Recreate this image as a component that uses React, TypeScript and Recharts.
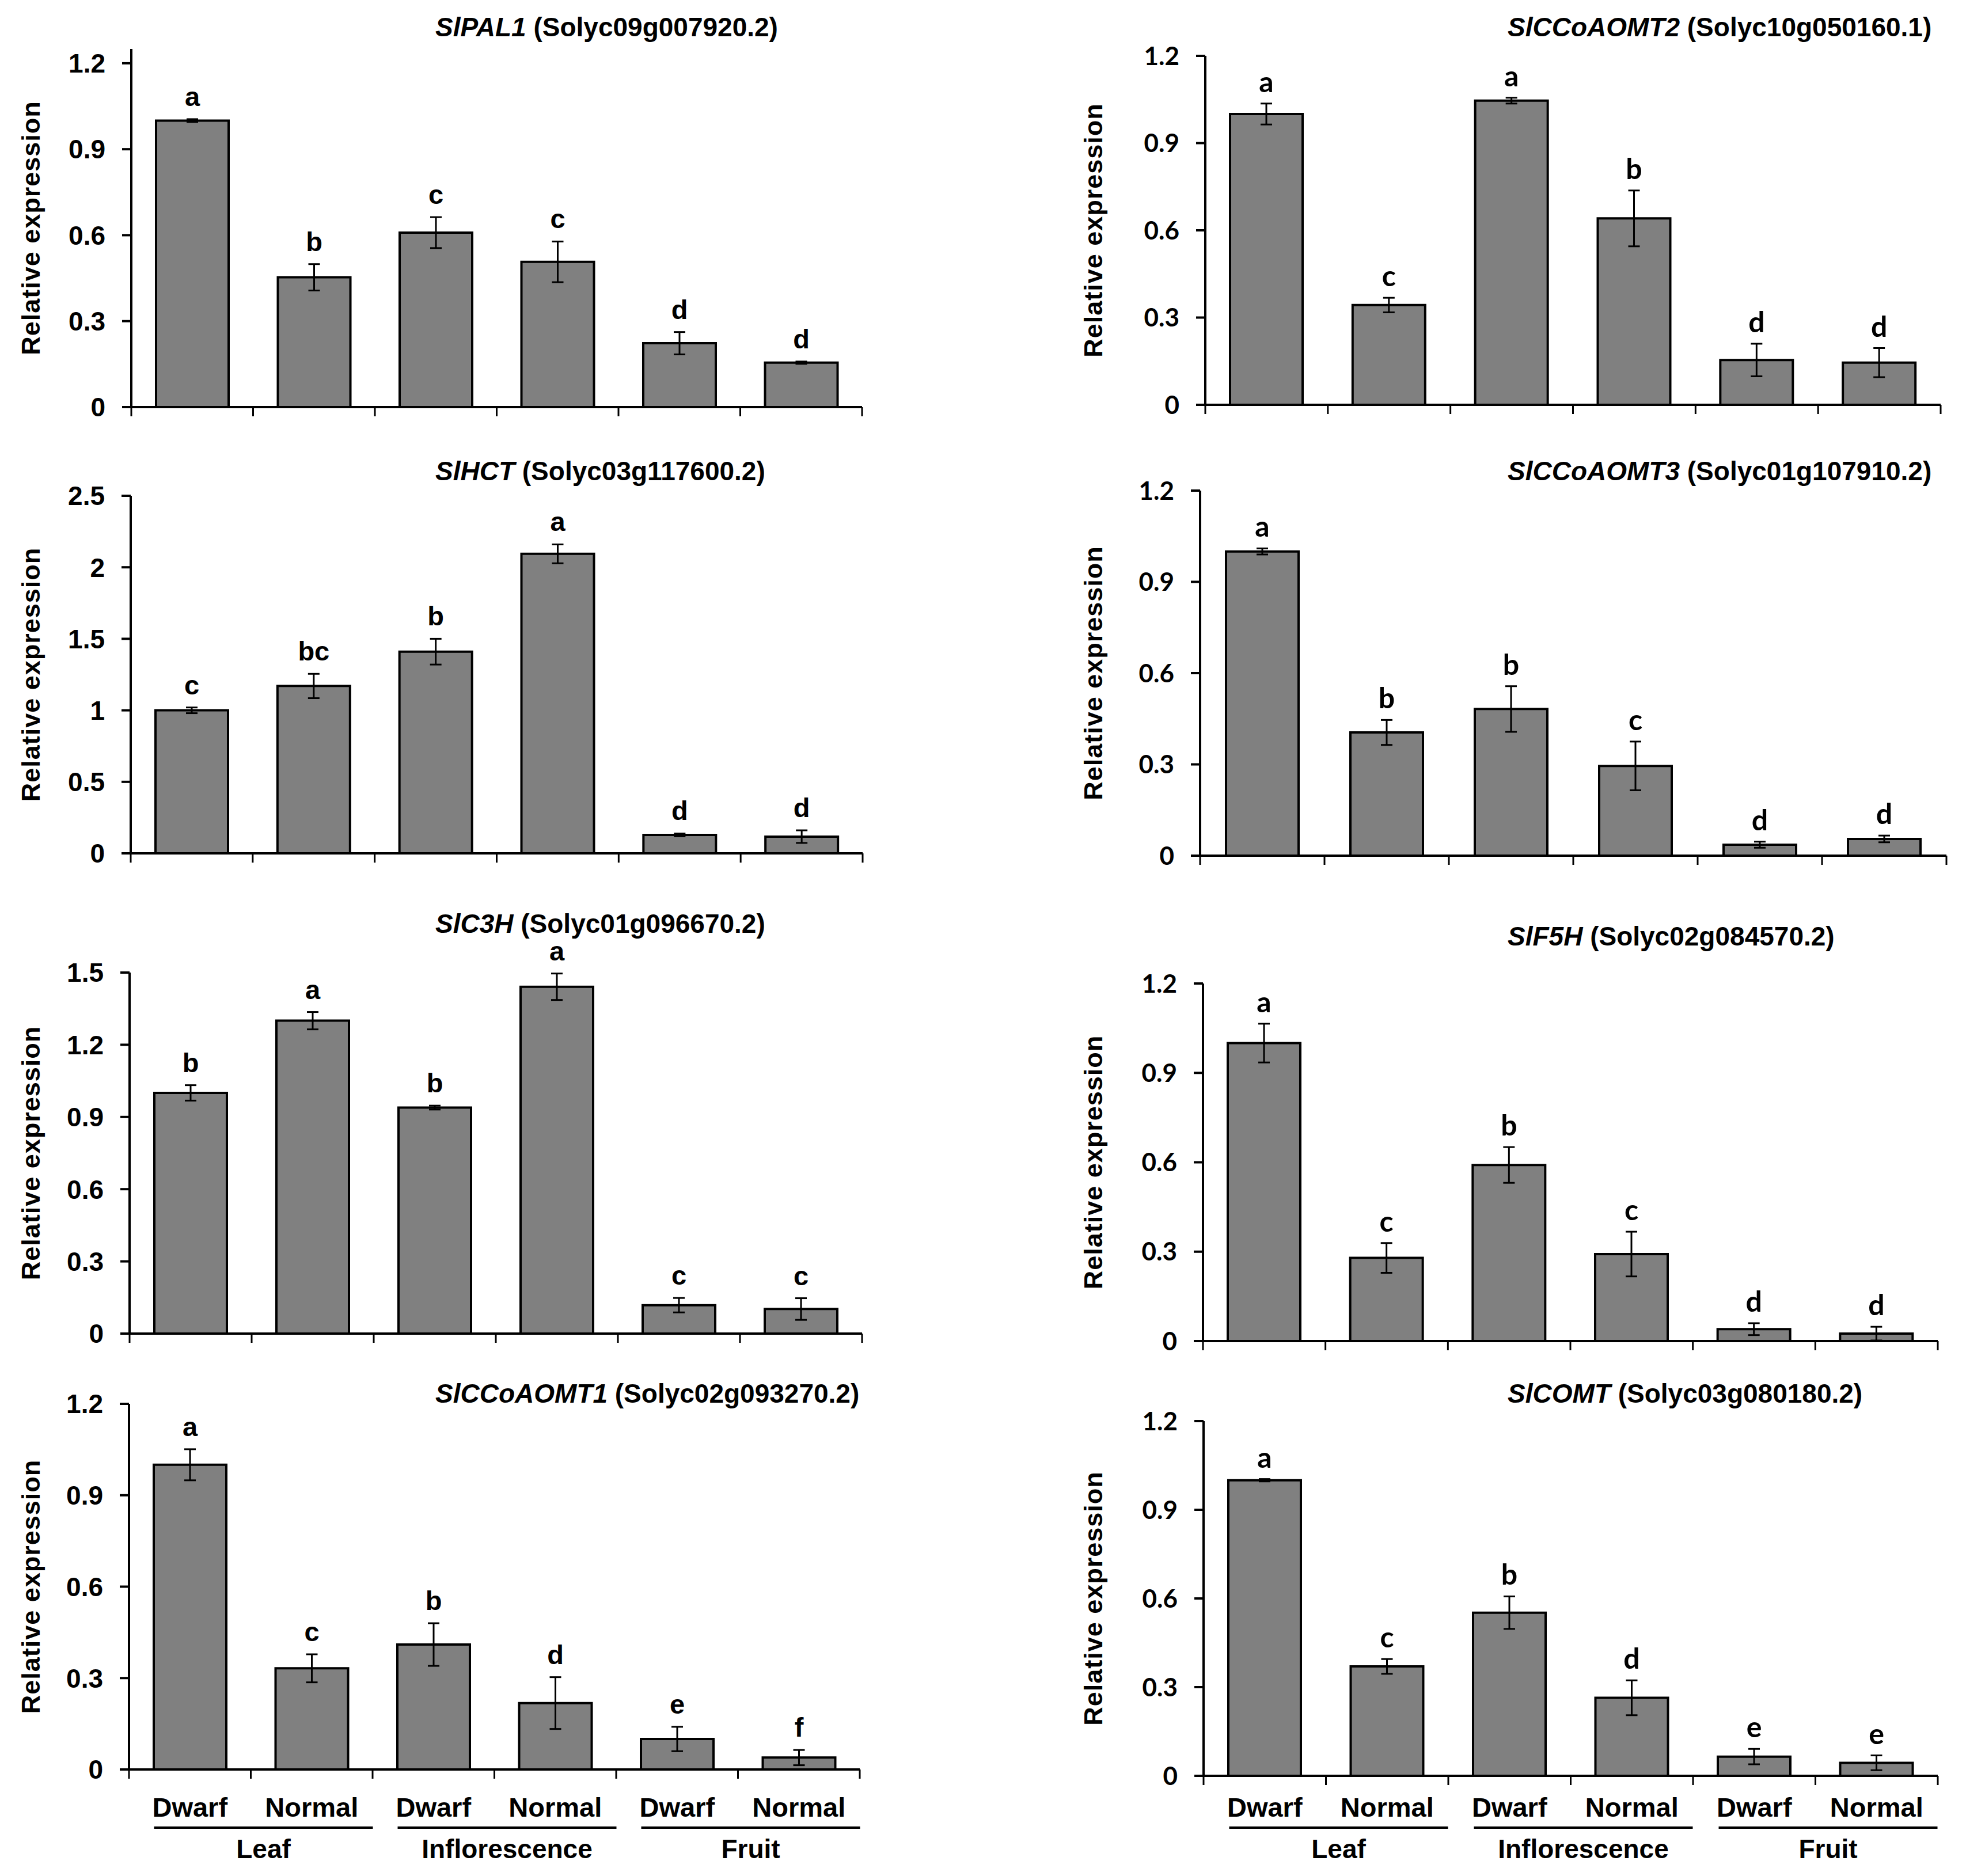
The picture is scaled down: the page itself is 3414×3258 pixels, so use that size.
import React from 'react'
import { Bar, BarChart, ErrorBar, LabelList, XAxis, YAxis } from 'recharts'

const ARIAL = '"Liberation Sans", Arial, sans-serif'
const CALIBRI = 'Lato, "Liberation Sans", sans-serif'

// x categories
const genotypes = ['Dwarf', 'Normal', 'Dwarf', 'Normal', 'Dwarf', 'Normal']
const tissues = ['Leaf', 'Inflorescence', 'Fruit']

// SlPAL1
const pal1Mean = [1.0, 0.453, 0.609, 0.507, 0.223, 0.155]
const pal1Sd = [0.005, 0.046, 0.054, 0.071, 0.039, 0.004]
const pal1Letters = ['a', 'b', 'c', 'c', 'd', 'd']

// SlHCT
const hctMean = [1.0, 1.17, 1.41, 2.094, 0.129, 0.117]
const hctSd = [0.02, 0.085, 0.09, 0.066, 0.01, 0.044]
const hctLetters = ['c', 'bc', 'b', 'a', 'd', 'd']

// SlC3H
const c3hMean = [1.0, 1.3, 0.939, 1.441, 0.118, 0.102]
const c3hSd = [0.032, 0.036, 0.008, 0.055, 0.03, 0.045]
const c3hLetters = ['b', 'a', 'b', 'a', 'c', 'c']

// SlCCoAOMT1
const ccoaomt1Mean = [1.0, 0.332, 0.41, 0.218, 0.1, 0.039]
const ccoaomt1Sd = [0.051, 0.046, 0.07, 0.085, 0.04, 0.025]
const ccoaomt1Letters = ['a', 'c', 'b', 'd', 'e', 'f']

// SlCCoAOMT2
const ccoaomt2Mean = [1.0, 0.343, 1.046, 0.641, 0.154, 0.145]
const ccoaomt2Sd = [0.036, 0.025, 0.01, 0.096, 0.056, 0.05]
const ccoaomt2Letters = ['a', 'c', 'a', 'b', 'd', 'd']

// SlCCoAOMT3
const ccoaomt3Mean = [1.0, 0.405, 0.482, 0.295, 0.036, 0.055]
const ccoaomt3Sd = [0.01, 0.041, 0.075, 0.08, 0.01, 0.011]
const ccoaomt3Letters = ['a', 'b', 'b', 'c', 'd', 'd']

// SlF5H
const f5hMean = [1.0, 0.279, 0.591, 0.292, 0.04, 0.025]
const f5hSd = [0.065, 0.05, 0.06, 0.075, 0.02, 0.023]
const f5hLetters = ['a', 'c', 'b', 'c', 'd', 'd']

// SlCOMT
const comtMean = [1.0, 0.37, 0.552, 0.264, 0.065, 0.044]
const comtSd = [0.004, 0.025, 0.055, 0.059, 0.026, 0.025]
const comtLetters = ['a', 'c', 'b', 'd', 'e', 'e']

const ticks12 = [0, 0.3, 0.6, 0.9, 1.2]
const ticks15 = [0, 0.3, 0.6, 0.9, 1.2, 1.5]
const ticks25 = [0, 0.5, 1, 1.5, 2, 2.5]

type Panel = {
  gene: string
  locus: string
  mean: number[]
  sd: number[]
  letters: string[]
  yMax: number
  ticks: number[]
  col: 0 | 1
  x0: number
  x1: number
  yTop: number
  y0: number
  titleY: number
  bottom?: boolean
}

const panels: Panel[] = [
  { gene: 'SlPAL1', locus: 'Solyc09g007920.2', mean: pal1Mean, sd: pal1Sd, letters: pal1Letters, yMax: 1.25, ticks: ticks12, col: 0, x0: 228, x1: 1497, yTop: 85, y0: 707, titleY: 63 },
  { gene: 'SlHCT', locus: 'Solyc03g117600.2', mean: hctMean, sd: hctSd, letters: hctLetters, yMax: 2.5, ticks: ticks25, col: 0, x0: 227, x1: 1498, yTop: 861, y0: 1482, titleY: 834 },
  { gene: 'SlC3H', locus: 'Solyc01g096670.2', mean: c3hMean, sd: c3hSd, letters: c3hLetters, yMax: 1.5, ticks: ticks15, col: 0, x0: 225, x1: 1497, yTop: 1689, y0: 2316, titleY: 1620 },
  { gene: 'SlCCoAOMT1', locus: 'Solyc02g093270.2', mean: ccoaomt1Mean, sd: ccoaomt1Sd, letters: ccoaomt1Letters, yMax: 1.2, ticks: ticks12, col: 0, x0: 224, x1: 1493, yTop: 2438, y0: 3073, titleY: 2436, bottom: true },
  { gene: 'SlCCoAOMT2', locus: 'Solyc10g050160.1', mean: ccoaomt2Mean, sd: ccoaomt2Sd, letters: ccoaomt2Letters, yMax: 1.2, ticks: ticks12, col: 1, x0: 2093, x1: 3370, yTop: 97, y0: 703, titleY: 63 },
  { gene: 'SlCCoAOMT3', locus: 'Solyc01g107910.2', mean: ccoaomt3Mean, sd: ccoaomt3Sd, letters: ccoaomt3Letters, yMax: 1.2, ticks: ticks12, col: 1, x0: 2084, x1: 3380, yTop: 852, y0: 1486, titleY: 834 },
  { gene: 'SlF5H', locus: 'Solyc02g084570.2', mean: f5hMean, sd: f5hSd, letters: f5hLetters, yMax: 1.2, ticks: ticks12, col: 1, x0: 2089, x1: 3365, yTop: 1708, y0: 2329, titleY: 1642 },
  { gene: 'SlCOMT', locus: 'Solyc03g080180.2', mean: comtMean, sd: comtSd, letters: comtLetters, yMax: 1.2, ticks: ticks12, col: 1, x0: 2090, x1: 3365, yTop: 2468, y0: 3084, titleY: 2436, bottom: true },
]

const PAGE_W = 3414
const PAGE_H = 3258
const Y_AXIS_W = 200
const PAD_TOP = 80
const LABEL_BASE = 3155 // Dwarf / Normal baseline
const RULE_Y = 3174 // tissue underline
const TISSUE_BASE = 3227 // Leaf / Inflorescence / Fruit baseline

function GenePanel({ p }: { p: Panel }) {
  const right = p.col === 1
  const colLeft = right ? 1700 : 0
  const axisH = p.bottom ? PAGE_H - p.y0 - 4 : 30
  const top = p.yTop - PAD_TOP
  const width = p.x1 - colLeft + 40
  const height = PAD_TOP + (p.y0 - p.yTop) + axisH
  const step = (p.x1 - p.x0) / 6
  const pxPerUnit = (p.y0 - p.yTop) / p.yMax
  const numFont = right ? CALIBRI : ARIAL
  const labelX = right ? 1898 : 53

  const data = genotypes.map((g, i) => ({
    name: `${tissues[Math.floor(i / 2)]} ${g}`,
    value: p.mean[i],
    sd: p.sd[i],
    letter: p.letters[i],
  }))

  // boundary ticks between categories, plus the two-level labels on the bottom row
  const renderTick = (props: any) => {
    const { x, y, index } = props
    const half = step / 2
    const pairMid = x + half + 22
    return (
      <g>
        <line x1={x - half} x2={x - half} y1={y} y2={y + 16} stroke="#000" strokeWidth={3} />
        {index === 5 && <line x1={x + half} x2={x + half} y1={y} y2={y + 16} stroke="#000" strokeWidth={3} />}
        {p.bottom && (
          <text x={x} y={y + LABEL_BASE - p.y0} textAnchor="middle" fontSize={47} fontWeight={700} fontFamily={ARIAL} fill="#000">
            {genotypes[index]}
          </text>
        )}
        {p.bottom && index % 2 === 0 && (
          <g>
            <line x1={pairMid - 190} x2={pairMid + 190} y1={y + RULE_Y - p.y0} y2={y + RULE_Y - p.y0} stroke="#000" strokeWidth={4} />
            <text x={pairMid} y={y + TISSUE_BASE - p.y0} textAnchor="middle" fontSize={46} fontWeight={700} fontFamily={ARIAL} fill="#000">
              {tissues[index / 2]}
            </text>
          </g>
        )}
      </g>
    )
  }

  const renderLetter = (props: any) => {
    const vb = props.viewBox ?? props
    const i = props.index
    const errTop = vb.y - p.sd[i] * pxPerUnit
    return (
      <text
        x={vb.x + vb.width / 2}
        y={errTop - (right ? 20 : 23)}
        textAnchor="middle"
        fontSize={right ? 50 : 47}
        fontWeight={700}
        fontFamily={numFont}
        fill="#000"
      >
        {props.value}
      </text>
    )
  }

  return (
    <div style={{ position: 'absolute', left: colLeft, top }}>
      <BarChart
        width={width}
        height={height}
        data={data}
        barSize={126}
        margin={{ top: PAD_TOP, right: 40, bottom: 0, left: p.x0 - colLeft - Y_AXIS_W }}
      >
        <XAxis
          dataKey="name"
          interval={0}
          height={axisH}
          tickLine={false}
          tickSize={0}
          tickMargin={0}
          axisLine={{ stroke: '#000', strokeWidth: 4 }}
          tick={renderTick}
        />
        <YAxis
          type="number"
          domain={[0, p.yMax]}
          ticks={p.ticks}
          allowDataOverflow
          width={Y_AXIS_W}
          tickSize={16}
          tickMargin={29}
          axisLine={{ stroke: '#000', strokeWidth: 4 }}
          tickLine={{ stroke: '#000', strokeWidth: 4 }}
          tick={{ fill: '#000', fontSize: right ? 44 : 46, fontWeight: 700, fontFamily: numFont }}
          label={{
            value: 'Relative expression',
            angle: -90,
            position: 'insideLeft',
            offset: labelX - (p.x0 - Y_AXIS_W),
            fontSize: 45,
            fontWeight: 700,
            fontFamily: ARIAL,
            fill: '#000',
            style: { textAnchor: 'middle', letterSpacing: 1 },
          }}
        />
        <Bar dataKey="value" fill="#808080" stroke="#000" strokeWidth={4} isAnimationActive={false}>
          <ErrorBar dataKey="sd" direction="y" width={10} strokeWidth={3} stroke="#000" isAnimationActive={false} />
          <LabelList dataKey="letter" content={renderLetter} />
        </Bar>
      </BarChart>
    </div>
  )
}

export default function App() {
  return (
    <div style={{ position: 'absolute', left: 0, top: 0, width: PAGE_W, height: PAGE_H, background: '#fff', overflow: 'hidden' }}>
      {panels.map((p) => (
        <GenePanel key={p.gene} p={p} />
      ))}
      <svg width={PAGE_W} height={PAGE_H} style={{ position: 'absolute', left: 0, top: 0, pointerEvents: 'none' }}>
        {panels.map((p) => (
          <text key={p.gene} x={p.col === 1 ? 2618 : 756} y={p.titleY} fontSize={46} fontWeight={700} fontFamily={ARIAL} fill="#000">
            <tspan fontStyle="italic">{p.gene}</tspan>
            <tspan>{` (${p.locus})`}</tspan>
          </text>
        ))}
      </svg>
    </div>
  )
}
